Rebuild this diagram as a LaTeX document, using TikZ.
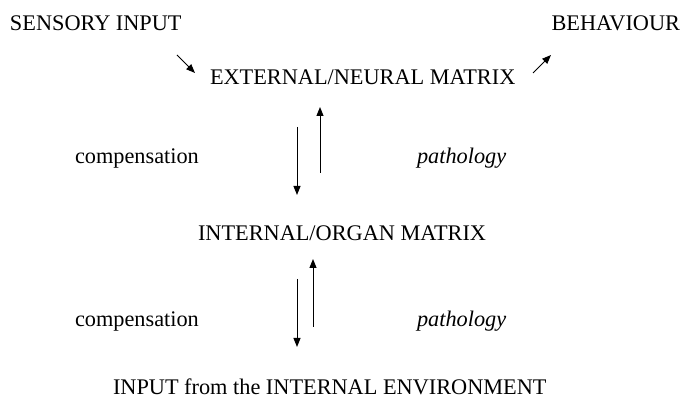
\documentclass[tikz,border=0pt]{standalone}
\usepackage{fontspec}
\setmainfont{Liberation Serif}
\usetikzlibrary{positioning, arrows.meta}

\begin{document}
\begin{tikzpicture}[
  x=0.5pt, y=-0.5pt,
  font=\fontsize{11.15}{13}\selectfont,
  lbl/.style={inner sep=0pt, outer sep=0pt},
  arr/.style={-{Triangle[length=4.5pt, width=3.5pt]}, line width=0.5pt, draw=black}
]
\useasboundingbox (0,0) rectangle (684,399);

% ================ top row ================
\node[lbl, anchor=base west] (sensory) at (10,31) {SENSORY INPUT};
\node[lbl, anchor=base east] (behav) at (680,31) {BEHAVIOUR};
\node[lbl, anchor=base west] (extMat) at (210,85) {EXTERNAL/NEURAL MATRIX};

% ================ middle ================
\node[lbl, anchor=base west] (comp1) at (75,164) {compensation};
\node[lbl, anchor=base west] (path1) at (417,164) {\itshape pathology};
\node[lbl, anchor=base west] (intMat) at (198,241) {INTERNAL/ORGAN MATRIX};

% ================ bottom ================
\node[lbl, anchor=base west] (comp2) at (75,327) {compensation};
\node[lbl, anchor=base west] (path2) at (417,327) {\itshape pathology};
\node[lbl, anchor=base west] (envIn) at (113,395) {INPUT from the INTERNAL ENVIRONMENT};

% ================ arrow ends ================
\coordinate (inA) at (177,55);
\coordinate (inB) at (195,73);
\coordinate (outA) at (533,73);
\coordinate (outB) at (551,55);
\coordinate (dn1a) at (297,127);
\coordinate (dn1b) at (297,195);
\coordinate (up1a) at (320,173);
\coordinate (up1b) at (320,107);
\coordinate (dn2a) at (297,279);
\coordinate (dn2b) at (297,347);
\coordinate (up2a) at (313,327);
\coordinate (up2b) at (313,259);

% ================ arrows ================
\draw[arr] (inA) -- (inB);
\draw[arr] (outA) -- (outB);
\draw[arr] (dn1a) -- (dn1b);
\draw[arr] (up1a) -- (up1b);
\draw[arr] (dn2a) -- (dn2b);
\draw[arr] (up2a) -- (up2b);
\end{tikzpicture}
\end{document}
